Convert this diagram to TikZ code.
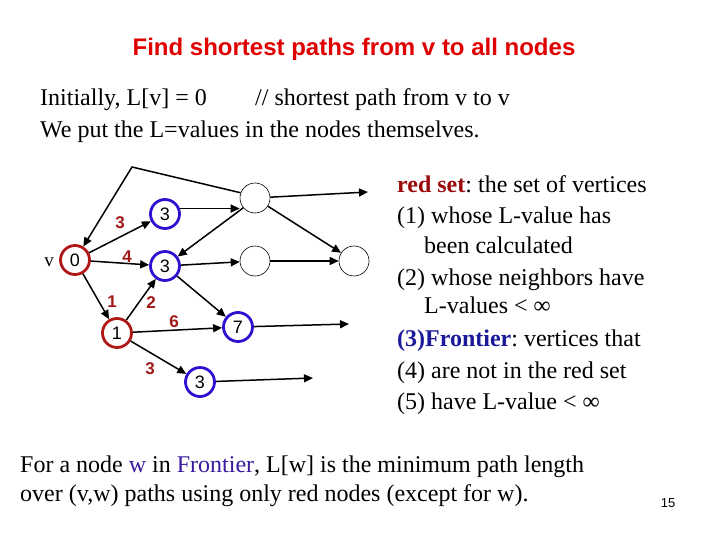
\documentclass[tikz,border=0pt]{standalone}
\usepackage{fontspec}
\setmainfont{Liberation Serif}
\setsansfont{Liberation Sans}
\usetikzlibrary{arrows.meta}
\frenchspacing
\definecolor{titlered}{HTML}{E00000}
\definecolor{nodered}{HTML}{B01818}
\definecolor{nodeblue}{HTML}{3010D0}
\definecolor{lblred}{HTML}{A01818}
\definecolor{txtred}{HTML}{9A0A0A}
\definecolor{txtblue}{HTML}{1A1A9A}
\definecolor{wblue}{HTML}{3A1AA0}
\tikzset{
  vtx/.style={circle, draw, line width=2.8pt, minimum size=29pt, inner sep=0pt, font=\sffamily\fontsize{18}{18}\selectfont},
  rvtx/.style={vtx, draw=nodered},
  bvtx/.style={vtx, draw=nodeblue},
  evtx/.style={circle, draw=black, line width=0.6pt, minimum size=30pt, inner sep=0pt},
  edge/.style={line width=1.5pt, -{Triangle[length=9pt,width=8pt]}},
  wlbl/.style={text=lblred, font=\sffamily\bfseries\fontsize{17}{17}\selectfont},
  body/.style={anchor=base west, inner sep=0pt, font=\fontsize{24}{24}\selectfont},
  rbody/.style={anchor=base west, inner sep=0pt, font=\fontsize{24}{24}\selectfont},
}
\begin{document}
\begin{tikzpicture}[x=1pt,y=-1pt]
\useasboundingbox (0,0) rectangle (720,540);
% title and texts
\node[anchor=base, inner sep=0pt, text=titlered, font=\sffamily\bfseries\fontsize{24}{24}\selectfont] (title) at (354,56) {Find shortest paths from v to all nodes};
\node[body] (l1a) at (40,106) {Initially, L[v] = 0};
\node[body] (l1b) at (255,106) {// shortest path from v to v};
\node[body] (l2) at (40,138) {We put the L=values in the nodes themselves.};
\node[rbody] (r1) at (397,193) {\textcolor{txtred}{\textbf{red set}}: the set of vertices};
\node[rbody] (r2) at (397,224) {(1) whose L-value has};
\node[rbody] (r3) at (424,253) {been calculated};
\node[rbody] (r4) at (397,285) {(2) whose neighbors have};
\node[rbody] (r5) at (424,313) {L-values < ∞};
\node[rbody] (r6) at (397,346) {\textcolor{txtblue}{\textbf{(3)Frontier}}: vertices that};
\node[rbody] (r7) at (397,378) {(4) are not in the red set};
\node[rbody] (r8) at (397,409) {(5) have L-value < ∞};
\node[body] (b1) at (20,472) {For a node \textcolor{wblue}{w} in \textcolor{wblue}{Frontier}, L[w] is the minimum path length};
\node[body] (b2) at (20,501) {over (v,w) paths using only red nodes (except for w).};
\node[inner sep=0pt, font=\sffamily\fontsize{13}{13}\selectfont] (pg) at (668,503) {15};
% graph
\node[inner sep=0pt, font=\fontsize{19}{19}\selectfont] (vl) at (49,262) {v};
\node[rvtx] (v0) at (75,260) {0};
\node[rvtx] (n1) at (117,333) {1};
\node[bvtx] (t3) at (165,214) {3};
\node[bvtx] (m3) at (165,266) {3};
\node[bvtx] (b3) at (200,382) {3};
\node[bvtx] (s7) at (238,327) {7};
\node[evtx] (e1) at (255,198) {};
\node[evtx] (e2) at (255,261) {};
\node[evtx] (e3) at (354,261) {};
\coordinate (k) at (132,167);
\coordinate (f1) at (368,192);
\coordinate (f2) at (349,324);
\coordinate (f3) at (313,378);
\draw[edge] (e1.160) -- (k) -- (v0);
\draw[edge] (t3.20) -- (e1.west|-t3.20);
\draw[edge] (e1.220) -- (m3);
\draw[edge] (m3) -- (e2);
\draw[edge] (v0) -- (t3);
\draw[edge] (v0) -- (m3);
\draw[edge] (v0) -- (n1);
\draw[edge] (n1) -- (m3);
\draw[edge] (n1) -- (s7);
\draw[edge] (n1) -- (b3);
\draw[edge] (m3) -- (s7);
\draw[edge] (e1) -- (f1);
\draw[edge] (e1) -- (e3);
\draw[edge] (e2) -- (e3);
\draw[edge] (s7) -- (f2);
\draw[edge] (b3) -- (f3);
% weights
\node[wlbl] (w1) at (120,223) {3};
\node[wlbl] (w2) at (127,257) {4};
\node[wlbl] (w3) at (112,302) {1};
\node[wlbl] (w4) at (151,303) {2};
\node[wlbl] (w5) at (174,322) {6};
\node[wlbl] (w6) at (150,369) {3};
\end{tikzpicture}
\end{document}
